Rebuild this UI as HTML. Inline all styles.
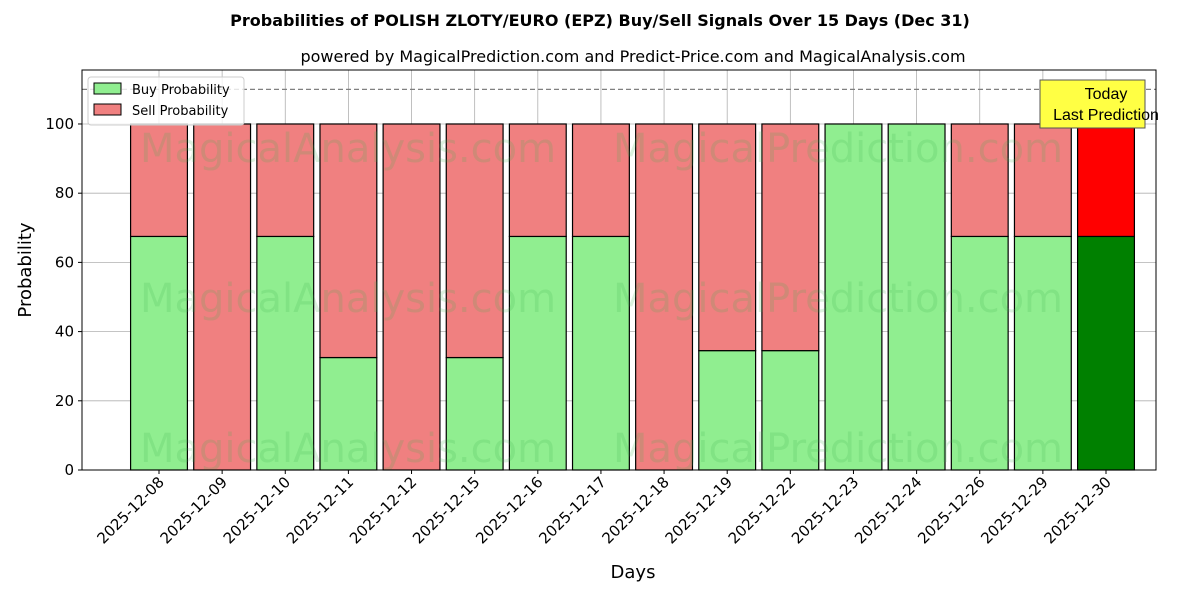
<!DOCTYPE html>
<html><head><meta charset="utf-8"><style>
body{margin:0;background:#fff;font-family:"DejaVu Sans","Liberation Sans",sans-serif;}
svg text{font-family:"DejaVu Sans","Liberation Sans",sans-serif;}
</style></head><body>
<svg id="chart" width="1200" height="600" xmlns="http://www.w3.org/2000/svg">
<text x="600" y="26" text-anchor="middle" font-size="16" font-weight="bold">Probabilities of POLISH ZLOTY/EURO (EPZ) Buy/Sell Signals Over 15 Days (Dec 31)</text>
<text x="633" y="62" text-anchor="middle" font-size="16">powered by MagicalPrediction.com and Predict-Price.com and MagicalAnalysis.com</text>
<g id="plot"></g>
</svg>
<script>
const days=["2025-12-08","2025-12-09","2025-12-10","2025-12-11","2025-12-12","2025-12-15","2025-12-16","2025-12-17","2025-12-18","2025-12-19","2025-12-22","2025-12-23","2025-12-24","2025-12-26","2025-12-29","2025-12-30"];
const buyValues=[67.5,0,67.5,32.5,0,32.5,67.5,67.5,0,34.5,34.5,100,100,67.5,67.5,67.5];
const sellValues=[32.5,100,32.5,67.5,100,67.5,32.5,32.5,100,65.5,65.5,0,0,32.5,32.5,32.5];
const yTicks=[0,20,40,60,80,100];

const L=82,R=1156,T=70,B=470;
const yMax=115.6;
const step=(1106-159)/15;
const xs=i=>159+i*step;
const ys=v=>B-v/yMax*(B-T);
const bw=0.9*step;
const g=document.getElementById('plot');
const NS="http://www.w3.org/2000/svg";
function mk(tag,attrs,parent){const e=document.createElementNS(NS,tag);for(const k in attrs)e.setAttribute(k,attrs[k]);(parent||g).appendChild(e);return e;}

yTicks.forEach(v=>{
  const l=mk('line',{x1:L,x2:R,y1:ys(v),y2:ys(v),stroke:'#b0b0b0','stroke-width':0.8});
  
  
  const t=mk('text',{x:L-8,y:ys(v)+5,'text-anchor':'end','font-size':15});
  t.textContent=v;
  
  
  mk('line',{x1:L-4,x2:L,y1:ys(v),y2:ys(v),stroke:'#000'});
});
days.forEach((d,i)=>{
  const l=mk('line',{x1:xs(i),x2:xs(i),y1:T,y2:B,stroke:'#b0b0b0','stroke-width':0.8});
  
  
});
days.forEach((d,i)=>{
  const last=i===days.length-1;
  const x=xs(i)-bw/2;
  const b=mk('rect',{x:x,y:ys(buyValues[i]),width:bw,height:ys(0)-ys(buyValues[i]),fill:last?'#008000':'#90ee90',stroke:'#000','stroke-width':1.2});
  
  
  const s=mk('rect',{x:x,y:ys(buyValues[i]+sellValues[i]),width:bw,height:ys(buyValues[i])-ys(buyValues[i]+sellValues[i]),fill:last?'#ff0000':'#f08080',stroke:'#000','stroke-width':1.2});
  
  
  mk('line',{x1:xs(i),x2:xs(i),y1:B,y2:B+4,stroke:'#000'});
  const t=mk('text',{transform:`translate(${xs(i)+6},${B+13}) rotate(-45)`,'text-anchor':'end','font-size':15});
  t.textContent=d;
  
  
});
[[148],[298],[448]].forEach(([y])=>{
  [[348,'MagicalAnalysis.com'],[838,'MagicalPrediction.com']].forEach(([x,s])=>{
    const t=mk('text',{x:x,y:y+14,'text-anchor':'middle','font-size':40,fill:'#3cb44b','fill-opacity':0.18});
    t.textContent=s;
    
    
  });
});
const dl=mk('line',{x1:L,x2:R,y1:ys(110),y2:ys(110),stroke:'#808080','stroke-dasharray':'5,3','stroke-width':1.2});


const fr=mk('rect',{x:L,y:T,width:R-L,height:B-T,fill:'none',stroke:'#000','stroke-width':1});


const ab=mk('rect',{x:1040,y:80,width:105,height:48,fill:'#ffff44',stroke:'#555'});


[['Today',99],['Last Prediction',120]].forEach(([s,y])=>{
  const t=mk('text',{x:1106,y:y,'text-anchor':'middle','font-size':16,style:'font-family:"Liberation Sans",sans-serif'});
  t.textContent=s;
  
  
});
const lg=mk('rect',{x:88,y:77,width:156,height:48,fill:'#fff','fill-opacity':0.8,stroke:'#ccc',rx:3});


[['Buy Probability','#90ee90',89],['Sell Probability','#f08080',110]].forEach(([s,c,y])=>{
  const r=mk('rect',{x:94,y:y-6,width:27,height:11,fill:c,stroke:'#000'});
  
  
  const t=mk('text',{x:132,y:y+5,'font-size':13});
  t.textContent=s;
  
  
});
const xt=mk('text',{x:633,y:578,'text-anchor':'middle','font-size':18});
xt.textContent='Days';


const yt=mk('text',{transform:`translate(31,270) rotate(-90)`,'text-anchor':'middle','font-size':18});
yt.textContent='Probability';


</script>
</body></html>
